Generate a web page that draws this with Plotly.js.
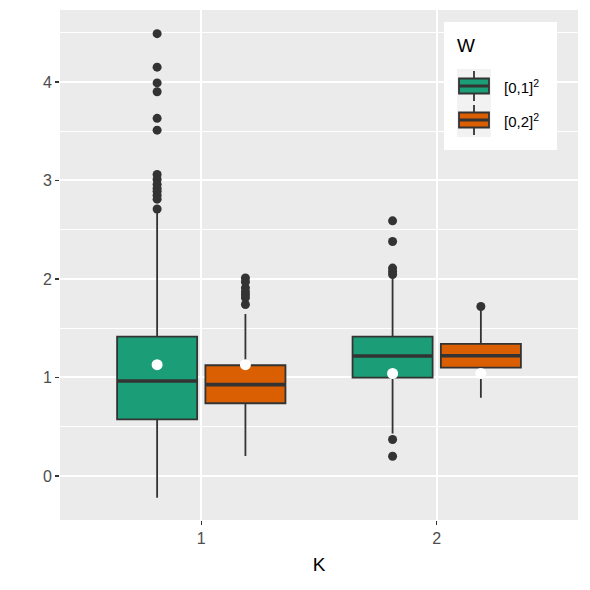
<!DOCTYPE html>
<html>
<head>
<meta charset="utf-8">
<script src="https://cdn.plot.ly/plotly-3.0.1.min.js"></script>
<style>
  html, body { margin: 0; padding: 0; background: #ffffff; }
  #chart { width: 590px; height: 590px; }
</style>
</head>
<body>
<div id="chart"></div>
<script>
// Categories on the x axis (K) and the fill groups (W)
const categories = [1, 2];
const tickLabels = ['1', '2'];
const groupNames = ['[0,1]<sup>2</sup>', '[0,2]<sup>2</sup>'];

// Box statistics for W = [0,1]^2, one value per K
const q1W1 = [0.575, 0.998];
const medianW1 = [0.964, 1.218];
const q3W1 = [1.414, 1.414];
const lowerW1 = [-0.22, 0.43];
const upperW1 = [2.67, 2.00];
const meanW1 = [1.13, 1.04];

// Box statistics for W = [0,2]^2, one value per K
const q1W2 = [0.738, 1.100];
const medianW2 = [0.927, 1.221];
const q3W2 = [1.124, 1.340];
const lowerW2 = [0.203, 0.795];
const upperW2 = [1.645, 1.68];
const meanW2 = [1.13, 1.04];

// Outlying observations per group and K
const outliersW1K1 = [4.49, 4.15, 3.99, 3.90, 3.63, 3.51, 3.06, 3.01, 2.96, 2.92, 2.89, 2.85, 2.81, 2.71];
const outliersW1K2 = [2.59, 2.38, 2.11, 2.075, 2.045, 0.37, 0.20];
const outliersW2K1 = [2.01, 1.97, 1.91, 1.87, 1.84, 1.81, 1.74];
const outliersW2K2 = [1.72];

// Layout constants: dodge offset and box width in x-axis units
const DODGE = 0.1875;
const BOX_W = 0.34;
const COLORS = ['#1B9E77', '#D95F02'];
const LINE = '#333333';

// Plot area in pixels (used to place the legend)
const W = 590, H = 590;
const M = {l: 60, r: 12, t: 10, b: 70};
const px = x => (x - M.l) / (W - M.l - M.r);
const py = y => (H - M.b - y) / (H - M.t - M.b);

const groups = [
  {name: groupNames[0], off: -DODGE, color: COLORS[0], q1: q1W1, med: medianW1, q3: q3W1,
   lo: lowerW1, hi: upperW1, mean: meanW1, outliers: [outliersW1K1, outliersW1K2]},
  {name: groupNames[1], off: DODGE, color: COLORS[1], q1: q1W2, med: medianW2, q3: q3W2,
   lo: lowerW2, hi: upperW2, mean: meanW2, outliers: [outliersW2K1, outliersW2K2]}
];

const traces = [];

// Boxes with whiskers
groups.forEach(g => {
  traces.push({
    type: 'box',
    name: g.name,
    x: categories.map(k => k + g.off),
    q1: g.q1, median: g.med, q3: g.q3,
    lowerfence: g.lo, upperfence: g.hi,
    width: BOX_W,
    whiskerwidth: 0,
    fillcolor: g.color,
    line: {color: LINE, width: 1.8},
    showlegend: false,
    hoverinfo: 'skip'
  });
});

// Thicker median bars drawn over the boxes
groups.forEach(g => {
  const xs = [], ys = [];
  categories.forEach((k, i) => {
    xs.push(k + g.off - BOX_W / 2, k + g.off + BOX_W / 2, null);
    ys.push(g.med[i], g.med[i], null);
  });
  traces.push({
    type: 'scatter', mode: 'lines', x: xs, y: ys,
    line: {color: LINE, width: 3.6}, showlegend: false, hoverinfo: 'skip'
  });
});

// Outlier points
groups.forEach(g => {
  const xs = [], ys = [];
  categories.forEach((k, i) => {
    g.outliers[i].forEach(v => { xs.push(k + g.off); ys.push(v); });
  });
  traces.push({
    type: 'scatter', mode: 'markers', x: xs, y: ys,
    marker: {color: LINE, size: 9}, showlegend: false, hoverinfo: 'skip'
  });
});

// Group means as white dots
groups.forEach(g => {
  traces.push({
    type: 'scatter', mode: 'markers',
    x: categories.map(k => k + g.off), y: g.mean,
    marker: {color: '#ffffff', size: 11}, showlegend: false, hoverinfo: 'skip'
  });
});

// Legend: white panel, title, and one box-glyph key per group
const shapes = [];
const annotations = [];
const rect = (x0, y0, x1, y1, fill, line) => ({
  type: 'rect', xref: 'paper', yref: 'paper', layer: 'above',
  x0: px(x0), x1: px(x1), y0: py(y0), y1: py(y1),
  fillcolor: fill, line: line || {width: 0}
});
const seg = (x0, y0, x1, y1, width) => ({
  type: 'line', xref: 'paper', yref: 'paper', layer: 'above',
  x0: px(x0), x1: px(x1), y0: py(y0), y1: py(y1),
  line: {color: LINE, width: width}
});

shapes.push(rect(444, 22, 557, 150, '#ffffff'));
annotations.push({
  xref: 'paper', yref: 'paper', x: px(455), y: py(46),
  xanchor: 'left', yanchor: 'middle', showarrow: false,
  text: 'W', font: {size: 19, color: '#000000'}
});
groups.forEach((g, i) => {
  const top = 69 + i * 34, bot = top + 34, mid = (top + bot) / 2;
  const kx0 = 457, kx1 = 491, cx = (kx0 + kx1) / 2;
  shapes.push(rect(kx0, top, kx1, bot, '#F2F2F2'));
  shapes.push(seg(cx, top + 2, cx, bot - 2, 1.8));
  shapes.push(rect(kx0 + 2, mid - 7.5, kx1 - 2, mid + 7.5, g.color, {color: LINE, width: 1.8}));
  shapes.push(seg(kx0 + 2, mid, kx1 - 2, mid, 3));
  annotations.push({
    xref: 'paper', yref: 'paper', x: px(502), y: py(mid),
    xanchor: 'left', yanchor: 'middle', showarrow: false,
    text: g.name, font: {size: 15, color: '#000000'}
  });
});

const layout = {
  width: W, height: H,
  margin: M,
  paper_bgcolor: '#ffffff',
  plot_bgcolor: '#EBEBEB',
  font: {family: 'Liberation Sans, Arial, sans-serif', color: '#4D4D4D', size: 16},
  showlegend: false,
  xaxis: {
    range: [0.4, 2.6],
    tickvals: categories, ticktext: tickLabels,
    showgrid: true, gridcolor: '#ffffff', gridwidth: 2,
    zeroline: false, showline: false,
    ticks: 'outside', ticklen: 4, tickwidth: 1.2, tickcolor: '#333333',
    tickfont: {size: 16, color: '#4D4D4D'},
    title: {text: 'K', font: {size: 19, color: '#000000'}, standoff: 11}
  },
  yaxis: {
    range: [-0.447, 4.73],
    tickvals: [0, 1, 2, 3, 4],
    showgrid: true, gridcolor: '#ffffff', gridwidth: 2,
    zeroline: false, showline: false,
    ticks: 'outside', ticklen: 4, tickwidth: 1.2, tickcolor: '#333333',
    tickfont: {size: 16, color: '#4D4D4D'},
    minor: {tickvals: [-0.5, 0.5, 1.5, 2.5, 3.5, 4.5], showgrid: true, gridcolor: '#ffffff', gridwidth: 1, ticks: ''}
  },
  shapes: shapes,
  annotations: annotations
};

Plotly.newPlot('chart', traces, layout, {displayModeBar: false, staticPlot: true});
</script>
</body>
</html>
